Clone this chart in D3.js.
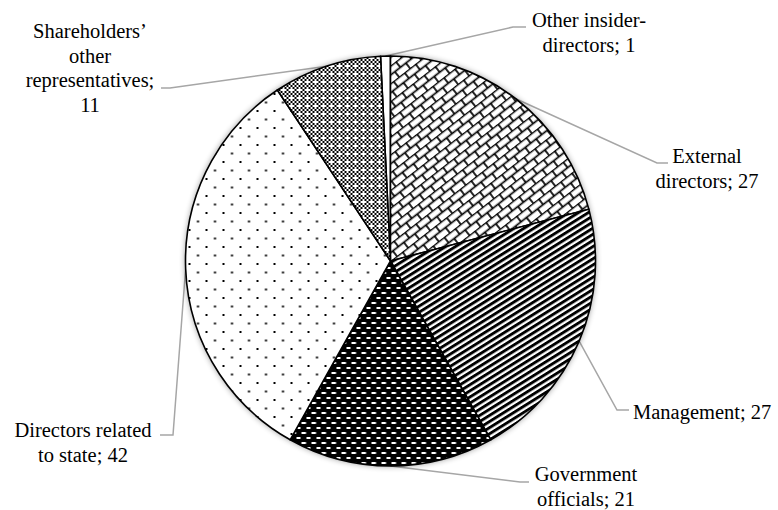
<!DOCTYPE html>
<html>
<head>
<meta charset="utf-8">
<script src="https://cdn.jsdelivr.net/npm/d3@7"></script>
<style>
  html, body { margin: 0; padding: 0; background: #fff; }
</style>
</head>
<body>
<svg id="chart" width="778" height="510"></svg>
<script>
// Board composition by director type
const categories = [
  "Other insider-directors",
  "External directors",
  "Management",
  "Government officials",
  "Directors related to state",
  "Shareholders’ other representatives"
];
const values = [1, 27, 27, 21, 42, 11];
// label text split into lines (last line carries the value)
const labelLines = [
  ["Other insider-", "directors; 1"],
  ["External", "directors; 27"],
  ["Management; 27"],
  ["Government", "officials; 21"],
  ["Directors related", "to state; 42"],
  ["Shareholders’", "other", "representatives;", "11"]
];

// layout: label anchor (x, first baseline, text-anchor) and leader elbow/end points
const labelLayout = [
  { x: 589, y: 27,  anchor: "middle", elbow: [513, 27],  end: [526, 27] },
  { x: 707, y: 163, anchor: "middle", elbow: [657, 163], end: [668, 163] },
  { x: 633, y: 419, anchor: "start",  elbow: [617, 410], end: [629, 410] },
  { x: 586, y: 481, anchor: "middle", elbow: [520, 482], end: [529, 482] },
  { x: 83,  y: 437, anchor: "middle", elbow: [173, 435], end: [160, 435] },
  { x: 90,  y: 38,  anchor: "middle", elbow: [170, 88],  end: [161, 88] }
];
const lineHeight = 24.5;
const fontFamily = "'Liberation Serif', Tinos, 'Times New Roman', 'DejaVu Serif', serif";

const svg = d3.select("#chart");
const cx = 390.5, cy = 261, radius = 205;
const defs = svg.append("defs");

// soft shadow around the pie
const shadow = defs.append("filter").attr("id", "pieShadow")
  .attr("x", "-10%").attr("y", "-10%").attr("width", "120%").attr("height", "120%");
shadow.append("feGaussianBlur").attr("in", "SourceAlpha").attr("stdDeviation", 3).attr("result", "b");
shadow.append("feComponentTransfer").attr("in", "b").attr("result", "s")
  .append("feFuncA").attr("type", "linear").attr("slope", 0.45);

// fill patterns
function pattern(id, w, h, transform) {
  const p = defs.append("pattern").attr("id", id)
    .attr("patternUnits", "userSpaceOnUse").attr("width", w).attr("height", h);
  if (transform) p.attr("patternTransform", transform);
  return p;
}
// diagonal brick
{
  const p = pattern("pBrick", 14, 14, "rotate(-38)");
  p.append("rect").attr("width", 14).attr("height", 14).attr("fill", "#fff");
  const g = p.append("g").attr("stroke", "#000").attr("stroke-width", 1.7).attr("fill", "none");
  g.append("line").attr("x1", 0).attr("y1", 0.5).attr("x2", 14).attr("y2", 0.5);
  g.append("line").attr("x1", 0).attr("y1", 7.5).attr("x2", 14).attr("y2", 7.5);
  g.append("line").attr("x1", 1).attr("y1", 0).attr("x2", 1).attr("y2", 7.5);
  g.append("line").attr("x1", 8).attr("y1", 7.5).attr("x2", 8).attr("y2", 14);
}
// dense diagonal stripes
{
  const p = pattern("pStripe", 6, 5.2, "rotate(-32)");
  p.append("rect").attr("width", 6).attr("height", 5.2).attr("fill", "#fff");
  p.append("rect").attr("width", 6).attr("height", 2.9).attr("fill", "#000");
}
// black with white dashes
{
  const p = pattern("pDash", 10, 10);
  p.append("rect").attr("width", 10).attr("height", 10).attr("fill", "#000");
  p.append("rect").attr("x", 1).attr("y", 1).attr("width", 4.5).attr("height", 2).attr("fill", "#fff");
  p.append("rect").attr("x", 6).attr("y", 6).attr("width", 4.5).attr("height", 2).attr("fill", "#fff");
}
// sparse dots
{
  const p = pattern("pDots", 17, 17);
  p.append("rect").attr("width", 17).attr("height", 17).attr("fill", "#fff");
  p.append("rect").attr("x", 2).attr("y", 2).attr("width", 2).attr("height", 2).attr("fill", "#000");
  p.append("rect").attr("x", 10.5).attr("y", 10.5).attr("width", 2).attr("height", 2).attr("fill", "#000");
}
// fine checker with light crosses
{
  const p = pattern("pCheck", 8, 8);
  p.append("rect").attr("width", 8).attr("height", 8).attr("fill", "#fff");
  for (let i = 0; i < 4; i++) for (let j = 0; j < 4; j++)
    if ((i + j) % 2 === 0) p.append("rect").attr("x", i * 2).attr("y", j * 2).attr("width", 2).attr("height", 2).attr("fill", "#000");
  p.append("rect").attr("x", 4).attr("y", 4).attr("width", 2).attr("height", 2).attr("fill", "#fff");
}
const fills = ["#ffffff", "url(#pBrick)", "url(#pStripe)", "url(#pDash)", "url(#pDots)", "url(#pCheck)"];

const total = d3.sum(values);
const pie = d3.pie().sort(null).value(d => d)
  .startAngle(-values[0] / total * 2 * Math.PI)
  .endAngle(2 * Math.PI - values[0] / total * 2 * Math.PI);
const arcs = pie(values);
const arc = d3.arc().innerRadius(0).outerRadius(radius);

const g = svg.append("g").attr("transform", `translate(${cx},${cy})`);

// leader lines (drawn beneath the pie)
const leaders = svg.append("g").attr("fill", "none").attr("stroke", "#a6a6a6").attr("stroke-width", 1.5);
arcs.forEach((a, i) => {
  const mid = (a.startAngle + a.endAngle) / 2;
  const sx = cx + radius * Math.sin(mid), sy = cy - radius * Math.cos(mid);
  const L = labelLayout[i];
  leaders.append("polyline")
    .attr("points", [[sx, sy], L.elbow, L.end].map(p => p.join(",")).join(" "));
});
svg.node().appendChild(g.node());

g.append("circle").attr("r", radius).attr("fill", "#000").attr("filter", "url(#pieShadow)");

g.selectAll("path.slice").data(arcs).join("path")
  .attr("class", "slice")
  .attr("d", arc)
  .attr("fill", (d, i) => fills[i])
  .attr("stroke", "#000")
  .attr("stroke-width", 1.6)
  .attr("stroke-linejoin", "round");

// labels
const labels = svg.append("g")
  .attr("font-family", fontFamily)
  .attr("font-size", 20.5)
  .attr("fill", "#000");
labelLines.forEach((lines, i) => {
  const L = labelLayout[i];
  const t = labels.append("text").attr("x", L.x).attr("y", L.y).attr("text-anchor", L.anchor)
    .style("font-family", fontFamily);
  lines.forEach((s, k) => {
    t.append("tspan").attr("x", L.x).attr("y", L.y + k * lineHeight).text(s);
  });
});
</script>
</body>
</html>
